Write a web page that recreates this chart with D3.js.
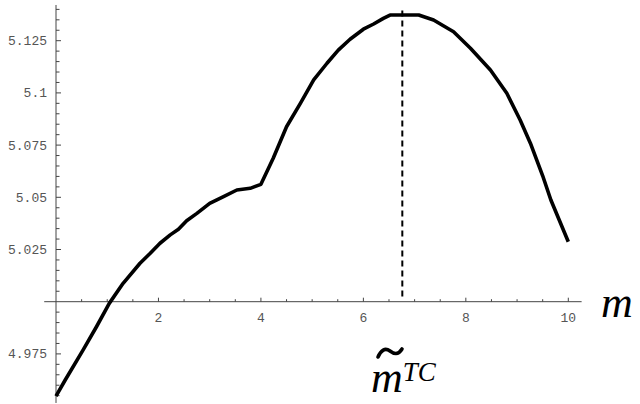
<!DOCTYPE html>
<html>
<head>
<meta charset="utf-8">
<script src="https://cdn.jsdelivr.net/npm/d3@7"></script>
<style>
    body { margin: 0; background: #fff; }
    #chart { width: 640px; height: 404px; }
    .tickLabel { font-family: "Liberation Mono", "DejaVu Sans Mono", monospace; font-size: 13px; fill: #555; }
    .mathLabel { font-family: "Liberation Serif", "DejaVu Serif", serif; font-style: italic; fill: #000; }
</style>
</head>
<body>
<div id="chart"></div>
<script>

// curve
var mValues = [0, 0.18, 0.53, 0.79, 1.04, 1.31, 1.64, 1.84, 2.03, 2.23, 2.39, 2.55, 2.75, 3.0, 3.27, 3.53,
    3.79, 4.0, 4.24, 4.5, 4.77, 5.03, 5.29, 5.51, 5.74, 6.0, 6.2, 6.39, 6.52, 7.08, 7.37, 7.76,
    8.09, 8.48, 8.8, 9.06, 9.26, 9.5, 9.66, 10];
var profitValues = [4.9548, 4.9625, 4.9769, 4.988, 4.9992, 5.0088, 5.0184, 5.0232, 5.028, 5.032, 5.0347,
    5.0388, 5.0423, 5.0471, 5.0503, 5.0535, 5.0543, 5.0562, 5.0687, 5.0838, 5.095, 5.1062, 5.1142,
    5.1205, 5.1257, 5.1305, 5.133, 5.1357, 5.1373, 5.1373, 5.1349, 5.1293, 5.1214, 5.111, 5.0998,
    5.087, 5.0759, 5.0603, 5.0487, 5.0287];

var xMajorTicks = [2, 4, 6, 8, 10];
var yMajorTicks = [4.975, 5.025, 5.05, 5.075, 5.1, 5.125];
var yTickLabels = ["4.975", "5.025", "5.05", "5.075", "5.1", "5.125"];

// optimum marked by the dashed line
var mOptimum = 6.76;

/**
 * Constructor for the profit curve chart
 */
function ProfitChart(){
    var self = this;
    self.init();
};

/**
 * Sets up svg and scales
 */
ProfitChart.prototype.init = function(){
    var self = this;

    self.svgWidth = 640;
    self.svgHeight = 404;

    self.xScale = d3.scaleLinear().domain([0, 10]).range([56, 568.3]);
    self.yScale = d3.scaleLinear().domain([5.0, 5.125]).range([301.7, 40.7]);

    self.svg = d3.select("#chart").append("svg")
        .attr("width", self.svgWidth)
        .attr("height", self.svgHeight);
};

/**
 * Draws axes, curve, marker and labels
 */
ProfitChart.prototype.update = function(){
    var self = this;
    var x = self.xScale, y = self.yScale;

    var x0 = x(0), y0 = y(5.0);

    //axes lines
    self.svg.append("line")
        .attr("x1", x(-0.23)).attr("x2", x(10.26))
        .attr("y1", y0).attr("y2", y0)
        .attr("stroke", "#444").attr("stroke-width", 1);

    self.svg.append("line")
        .attr("x1", x0).attr("x2", x0)
        .attr("y1", y(5.1421)).attr("y2", y(4.9515))
        .attr("stroke", "#444").attr("stroke-width", 1);

    //x ticks every 0.5, longer on even numbers
    var xTicks = d3.range(0.5, 10.01, 0.5);
    self.svg.selectAll(".xTick").data(xTicks)
        .enter()
        .append("line")
        .classed("xTick", true)
        .attr("x1", function (d) {return x(d)})
        .attr("x2", function (d) {return x(d)})
        .attr("y1", y0)
        .attr("y2", function (d) {return xMajorTicks.indexOf(d) >= 0 ? y0 - 4 : y0 - 2.5})
        .attr("stroke", "#444");

    self.svg.selectAll(".xTickLabel").data(xMajorTicks)
        .enter()
        .append("text")
        .classed("tickLabel", true)
        .attr("x", function (d) {return x(d)})
        .attr("y", y0 + 20)
        .attr("text-anchor", "middle")
        .text(function (d) {return d});

    //y ticks every 0.005
    var yTicks = d3.range(4.955, 5.1405, 0.005).map(function (d) {return +d.toFixed(3)})
        .filter(function (d) {return d !== 5});
    self.svg.selectAll(".yTick").data(yTicks)
        .enter()
        .append("line")
        .classed("yTick", true)
        .attr("x1", x0)
        .attr("x2", function (d) {return yMajorTicks.indexOf(d) >= 0 ? x0 + 5 : x0 + 3.5})
        .attr("y1", function (d) {return y(d)})
        .attr("y2", function (d) {return y(d)})
        .attr("stroke", "#444");

    self.svg.selectAll(".yTickLabel").data(yMajorTicks)
        .enter()
        .append("text")
        .classed("tickLabel", true)
        .attr("x", x0 - 9)
        .attr("y", function (d) {return y(d)})
        .attr("dy", "0.35em")
        .attr("text-anchor", "end")
        .text(function (d, i) {return yTickLabels[i]});

    //dashed line at the optimum
    self.svg.append("line")
        .attr("x1", x(mOptimum)).attr("x2", x(mOptimum))
        .attr("y1", y(5.1395)).attr("y2", y(5.002))
        .attr("stroke", "#000")
        .attr("stroke-width", 2)
        .attr("stroke-dasharray", "6,4");

    //the curve
    var points = mValues.map(function (m, i) {return [m, profitValues[i]]});
    var line = d3.line()
        .x(function (d) {return x(d[0])})
        .y(function (d) {return y(d[1])});

    self.svg.append("path")
        .datum(points)
        .attr("d", line)
        .attr("fill", "none")
        .attr("stroke", "#000")
        .attr("stroke-width", 3.6)
        .attr("stroke-linejoin", "round");

    //axis name
    self.svg.append("text")
        .classed("mathLabel", true)
        .attr("x", 601)
        .attr("y", 317)
        .style("font-size", "44px")
        .text("m");

    //m tilde TC under the axis
    var label = self.svg.append("g");
    label.append("text")
        .classed("mathLabel", true)
        .attr("x", 371)
        .attr("y", 392)
        .style("font-size", "44px")
        .text("m")
        .append("tspan")
        .attr("dy", -11)
        .style("font-size", "27px")
        .text("TC");

    //the tilde accent over the m, drawn as a stroke
    label.append("path")
        .attr("d", "M378,357 C381,350 385,347.5 390,351 C394,354 398,355.5 402,349")
        .attr("fill", "none")
        .attr("stroke", "#000")
        .attr("stroke-width", 3.6)
        .attr("stroke-linecap", "round");
};

var chart = new ProfitChart();
chart.update();

</script>
</body>
</html>
